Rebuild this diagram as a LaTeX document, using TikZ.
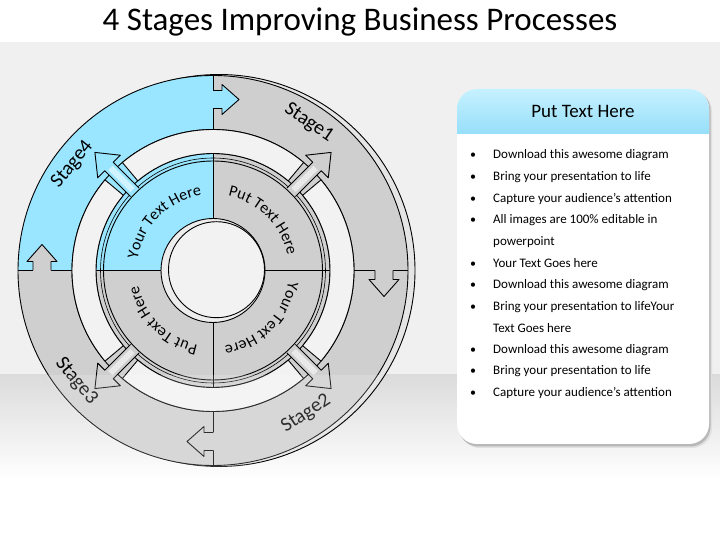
\documentclass[tikz,border=0pt]{standalone}
\usepackage{fontspec}
\setmainfont{Carlito}
\usetikzlibrary{decorations.text}
\definecolor{bg}{HTML}{F0F0F0}
\definecolor{qblue}{HTML}{9AE5FF}
\definecolor{qgray}{HTML}{CFCFCF}
\definecolor{bandc}{HTML}{F2F2F2}
\definecolor{hdtop}{HTML}{C6F1FF}
\definecolor{hdbot}{HTML}{97DFFA}
\begin{document}
\begin{tikzpicture}[x=1pt,y=1pt,line join=round,
  ol/.style={draw=black,line width=0.9pt},
  thin ol/.style={draw=black,line width=0.6pt},
  stagelbl/.style={font=\fontsize{20}{20}\selectfont,inner sep=0pt},
  bullettxt/.style={font=\fontsize{13}{13}\selectfont,anchor=base west,inner sep=0pt},
  dot/.style={font=\fontsize{12}{12}\selectfont,anchor=base west,inner sep=0pt}]
\useasboundingbox (0,0) rectangle (720,540);
% background
\fill[white] (0,0) rectangle (720,540);
\fill[bg] (0,165) rectangle (720,498);
\shade[top color=black!14,bottom color=white] (0,60) rectangle (720,165);
% title
\node[font=\fontsize{33}{33}\selectfont,anchor=base,inner sep=0pt] (title) at (360,509) {4 Stages Improving Business Processes};

\begin{scope}[shift={(213,269.5)}]
  % 3D edge of the disc
  \filldraw[fill=black!10,ol] (6,0) circle[radius=196];
  % quadrant pieces
  \fill[qgray] (0:52) arc[start angle=0,end angle=90,radius=52] -- (90:195) arc[start angle=90,end angle=0,radius=195] -- cycle;
  \fill[qblue] (90:52) arc[start angle=90,end angle=180,radius=52] -- (180:195) arc[start angle=180,end angle=90,radius=195] -- cycle;
  \fill[qgray] (180:52) arc[start angle=180,end angle=270,radius=52] -- (270:195) arc[start angle=270,end angle=180,radius=195] -- cycle;
  \fill[qgray] (270:52) arc[start angle=270,end angle=360,radius=52] -- (0:195) arc[start angle=360,end angle=270,radius=195] -- cycle;
  % circles
  \draw[ol] (0,0) circle[radius=195];
  \draw[ol] (0,0) circle[radius=141];
  \draw[ol] (0,0) circle[radius=117];
  \draw[thin ol] (0,0) circle[radius=112.5];
  \draw[ol] (0,0) circle[radius=109.5];
  \foreach \a in {0,90,180,270} \draw[ol] (\a:52) -- (\a:195);
  % light bands between the diagonal arrows
  \foreach \t [evaluate=\t as \ta using \t+5, evaluate=\t as \tb using \t+85] in {45,135,225,315}
    \filldraw[fill=bandc,ol] (\ta:141) arc[start angle=\ta,end angle=\tb,radius=141] -- (\tb:117) arc[start angle=\tb,end angle=\ta,radius=117] -- cycle;
  % diagonal arrows
  \foreach \p/\c in {45/qgray,135/qblue,225/qgray,315/qgray} {
    \begin{scope}[rotate=\p-90]
      \fill[\c] (-6,110.5) -- (-6,147) -- (-16,147) -- (0,167) -- (16,147) -- (6,147) -- (6,110.5) -- cycle;
      \fill[white,opacity=.55] (-3,114) -- (-3,145) -- (3,145) -- (3,114) -- cycle;
      \draw[ol] (-6,110.5) -- (-6,147) -- (-16,147) -- (0,167) -- (16,147) -- (6,147) -- (6,110.5);
    \end{scope}
  }
  % notch arrows on the outer ring
  \foreach \b/\c in {90/qblue,0/qgray,270/qgray,180/qgray} {
    \begin{scope}[rotate=\b-90]
      \fill[\c] (-1,180) -- (9,180) -- (9,186) -- (26,171) -- (9,156) -- (9,162) -- (-1,162) -- cycle;
      \draw[ol] (0,180) -- (9,180) -- (9,186) -- (26,171) -- (9,156) -- (9,162) -- (0,162);
    \end{scope}
  }
  % centre hole
  \fill[black!7] (0,0) circle[radius=52];
  \filldraw[fill=bandc,ol] (3.5,0.8) circle[radius=48];
  \draw[ol] (0,0) circle[radius=52];
  % curved texts
  \path[decorate,decoration={text along path,text align=center,text={|\fontsize{16}{16}\selectfont|Your Text Here}}] (177:76) arc[start angle=177,end angle=93,radius=76];
  \path[decorate,decoration={text along path,text align=center,text={|\fontsize{16}{16}\selectfont|Put Text Here}}] (87:76) arc[start angle=87,end angle=3,radius=76];
  \path[decorate,decoration={text along path,text align=center,text={|\fontsize{16}{16}\selectfont|Your Text Here}}] (357:76) arc[start angle=357,end angle=273,radius=76];
  \path[decorate,decoration={text along path,text align=center,text={|\fontsize{16}{16}\selectfont|Put Text Here}}] (267:76) arc[start angle=267,end angle=183,radius=76];
  % stage labels
  \node[stagelbl,rotate=-34] (s1) at (57:176) {Stage1};
  \node[stagelbl,rotate=33] (s2) at (-57:171) {Stage2};
  \node[stagelbl,rotate=-50] (s3) at (219:176) {Stage3};
  \node[stagelbl,rotate=51] (s4) at (143:176) {Stage4};
  % floor lightening
  \begin{scope}
    \clip (0,0) circle[radius=197];
    \fill[white,opacity=.18] (-220,-300) rectangle (230,-104.5);
  \end{scope}
\end{scope}

% right panel
\fill[black!12,rounded corners=20] (460,92) rectangle (712,449);
\fill[black!28,rounded corners=20] (458.5,93.5) rectangle (710.5,449.5);
\fill[white,rounded corners=20] (457,96) rectangle (709,451);
\begin{scope}
  \clip[rounded corners=20] (457,96) rectangle (709,451);
  \shade[top color=hdtop,bottom color=hdbot] (457,406.7) rectangle (709,451);
\end{scope}
\node[font=\fontsize{19}{19}\selectfont,inner sep=0pt] (head) at (583,428.3) {Put Text Here};
\foreach \yy in {381,359.3,337.7,316,272.7,251,229.3,186.7,165,143.3}
  \node[dot] at (470,\yy) {•};
\node[bullettxt] (b1) at (493,381) {Download this awesome diagram};
\node[bullettxt] (b2) at (493,359.3) {Bring your presentation to life};
\node[bullettxt] (b3) at (493,337.7) {Capture your audience’s attention};
\node[bullettxt] (b4) at (493,316) {All images are 100\% editable in};
\node[bullettxt] (b4b) at (493,294.3) {powerpoint};
\node[bullettxt] (b5) at (493,272.7) {Your Text Goes here};
\node[bullettxt] (b6) at (493,251) {Download this awesome diagram};
\node[bullettxt] (b7) at (493,229.3) {Bring your presentation to lifeYour};
\node[bullettxt] (b7b) at (493,207.7) {Text Goes here};
\node[bullettxt] (b8) at (493,186.7) {Download this awesome diagram};
\node[bullettxt] (b9) at (493,165) {Bring your presentation to life};
\node[bullettxt] (b10) at (493,143.3) {Capture your audience’s attention};
\end{tikzpicture}
\end{document}
